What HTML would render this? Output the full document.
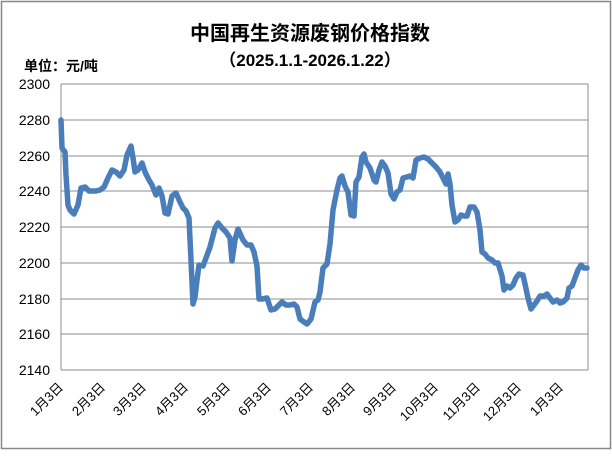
<!DOCTYPE html>
<html><head><meta charset="utf-8"><style>
body{margin:0;background:#fff;}
svg text{font-family:"Liberation Sans","Noto Sans CJK SC",sans-serif;}
</style></head><body>
<svg width="612" height="451" xmlns="http://www.w3.org/2000/svg">
<rect x="1.5" y="1.5" width="609" height="447" fill="#fff" stroke="#888" stroke-width="1.5"/>
<text x="310" y="40" text-anchor="middle" font-size="20" font-weight="bold" fill="#000">中国再生资源废钢价格指数</text>
<text x="310" y="66" text-anchor="middle" font-size="17" font-weight="bold" fill="#000">（2025.1.1-2026.1.22）</text>
<text x="24" y="71" font-size="14" font-weight="bold" fill="#000">单位：元/吨</text>
<g stroke="#8c8c8c" stroke-width="1">
<line x1="61" y1="84" x2="588" y2="84"/><line x1="61" y1="120" x2="588" y2="120"/>
<line x1="61" y1="156" x2="588" y2="156"/><line x1="61" y1="191" x2="588" y2="191"/>
<line x1="61" y1="227" x2="588" y2="227"/><line x1="61" y1="263" x2="588" y2="263"/>
<line x1="61" y1="299" x2="588" y2="299"/><line x1="61" y1="334" x2="588" y2="334"/>
<line x1="61" y1="370" x2="588" y2="370"/><line x1="61" y1="84" x2="61" y2="370"/>
<line x1="588" y1="84" x2="588" y2="370"/>
</g>
<g font-size="14" fill="#000" text-anchor="end">
<text x="50" y="89">2300</text><text x="50" y="125">2280</text><text x="50" y="161">2260</text>
<text x="50" y="196">2240</text><text x="50" y="232">2220</text><text x="50" y="268">2200</text>
<text x="50" y="304">2180</text><text x="50" y="339">2160</text><text x="50" y="375">2140</text>
</g>
<g font-size="13" fill="#000" text-anchor="end">
<text transform="translate(64,388) rotate(-45)">1月3日</text>
<text transform="translate(106,388) rotate(-45)">2月3日</text>
<text transform="translate(147,388) rotate(-45)">3月3日</text>
<text transform="translate(189,388) rotate(-45)">4月3日</text>
<text transform="translate(231,388) rotate(-45)">5月3日</text>
<text transform="translate(272,388) rotate(-45)">6月3日</text>
<text transform="translate(314,388) rotate(-45)">7月3日</text>
<text transform="translate(356,388) rotate(-45)">8月3日</text>
<text transform="translate(397,388) rotate(-45)">9月3日</text>
<text transform="translate(439,388) rotate(-45)">10月3日</text>
<text transform="translate(481,388) rotate(-45)">11月3日</text>
<text transform="translate(522,388) rotate(-45)">12月3日</text>
<text transform="translate(564,388) rotate(-45)">1月3日</text>
</g>
<polyline fill="none" stroke="#4a7ebb" stroke-width="5.5" stroke-linejoin="round" stroke-linecap="round" points="61,120 62,148 65,152 66,175 68,205 70,210 74,214 78,205 81,188 85,187 89,191 96,191 100,190 104,187 108,178 112,170 116,172 120,176 124,170 127,155 131,146 133,158 135,172 138,170 142,163 145,172 149,180 152,185 156,195 159,188 162,196 165,213 168,214 172,196 176,193 180,202 183,208 186,211 189,218 191,260 193,304 195,297 197,280 199,265 203,266 206,258 210,247 215,228 218,223 222,228 226,232 230,238 232,261 235,240 238,229 243,240 247,245 251,245 254,252 257,266 259,299 262,299 267,298 271,310 275,309 279,305 282,302 286,305 290,305 294,304 297,307 300,319 304,322 307,324 311,319 315,302 318,300 320,292 323,268 327,264 330,244 333,210 337,190 340,178 342,176 345,186 348,192 351,215 354,216 356,182 359,177 362,157 364,154 366,162 370,168 374,180 376,182 379,170 382,162 385,166 388,173 391,194 394,199 397,192 400,190 403,178 407,177 410,176 413,178 416,160 420,158 424,157 428,159 432,163 436,167 440,172 443,178 446,184 448,174 450,184 452,205 455,222 458,220 461,215 464,216 467,216 470,207 474,207 477,212 480,230 482,252 485,254 488,258 492,260 495,263 498,263 502,276 504,290 507,286 510,288 513,285 516,278 519,274 523,275 525,284 528,298 531,309 534,305 537,301 540,296 544,296 547,294 550,298 553,302 557,300 560,303 563,302 567,298 569,288 572,286 575,278 578,270 581,265 584,268 587,268"/>
</svg>
</body></html>
